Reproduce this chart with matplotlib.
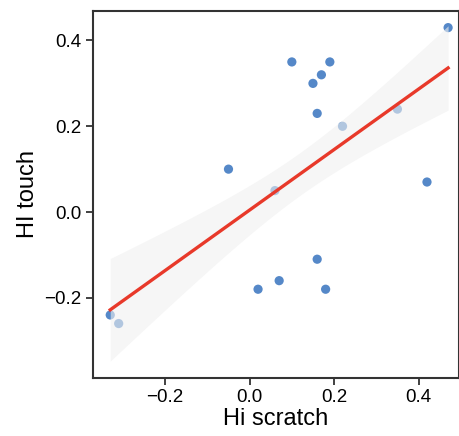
import numpy as np
import matplotlib
matplotlib.use("Agg")
import matplotlib.pyplot as plt

plt.rcParams['font.family'] = ['Liberation Sans', 'DejaVu Sans']

# values
hi_scratch = [0.47, 0.10, 0.19, 0.17, 0.15, 0.16, 0.22, 0.35, -0.05, 0.06,
              0.42, 0.16, 0.07, 0.02, 0.18, -0.33, -0.31]
hi_touch = [0.43, 0.35, 0.35, 0.32, 0.30, 0.23, 0.20, 0.24, 0.10, 0.05,
            0.07, -0.11, -0.16, -0.18, -0.18, -0.24, -0.26]

x = np.array(hi_scratch)
y = np.array(hi_touch)
n = len(x)

# linear fit with confidence band (narrow, as in the bootstrapped original)
slope, icept = np.polyfit(x, y, 1)
xs = np.linspace(x.min(), x.max(), 100)
ys = icept + slope * xs
resid = y - (icept + slope * x)
s = np.sqrt(np.sum(resid ** 2) / (n - 2))
k = 1.1
se = s * np.sqrt(1.0 / n + (xs - x.mean()) ** 2 / np.sum((x - x.mean()) ** 2))

fig = plt.figure(figsize=(4.6, 4.36), dpi=100)
ax = fig.add_axes([0.202, 0.133, 0.796, 0.842])

ax.scatter(x, y, s=44, color='#5588c8', edgecolor='none', zorder=2)
ax.fill_between(xs, ys - k * se, ys + k * se, color='#f0f0f0', alpha=0.6,
                linewidth=0, zorder=3)
ax.plot(xs, ys, color='#e8392a', linewidth=2.4, zorder=4)

ax.set_xlim(-0.371, 0.496)
ax.set_ylim(-0.387, 0.469)
ax.set_xticks([-0.2, 0.0, 0.2, 0.4])
ax.set_yticks([-0.2, 0.0, 0.2, 0.4])
ax.set_xticklabels(['\u22120.2', '0.0', '0.2', '0.4'])
ax.set_yticklabels(['\u22120.2', '0.0', '0.2', '0.4'])
ax.tick_params(labelsize=13.5, length=5, width=1.3, color='#333333', pad=3)
ax.set_xlabel('Hi scratch', fontsize=17, labelpad=1)
ax.set_ylabel('HI touch', fontsize=17, labelpad=4)
for sp in ax.spines.values():
    sp.set_color('#333333')
    sp.set_linewidth(1.5)

fig.savefig('out.png', dpi=100)
